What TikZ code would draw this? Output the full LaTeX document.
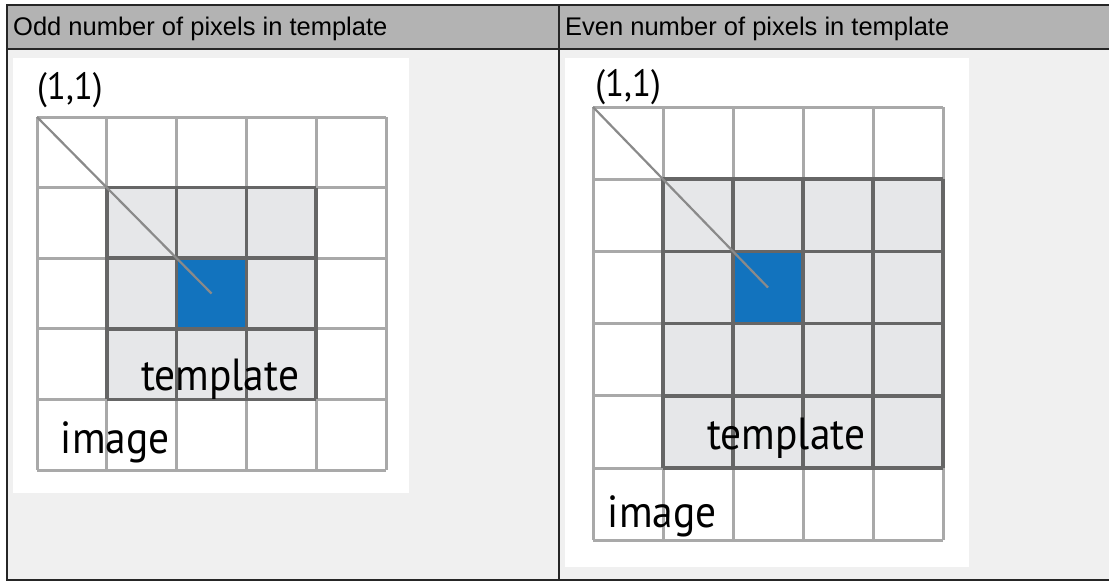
\documentclass[tikz,border=0pt]{standalone}
\usepackage{fontspec}
\setmainfont{Liberation Sans}
\newfontfamily\gridfont{PT Sans}[FakeStretch=0.92]
\definecolor{hdrgray}{HTML}{B3B3B3}
\definecolor{panelgray}{HTML}{F0F0F0}
\definecolor{cellgray}{HTML}{E6E7E9}
\definecolor{lightline}{HTML}{A9A9A9}
\definecolor{darkline}{HTML}{666666}
\definecolor{pixblue}{HTML}{1273BE}
\definecolor{diagline}{HTML}{8A8A8A}
\tikzset{
  hdrtext/.style={anchor=base west, inner sep=0pt, font=\fontsize{25.5}{28}\selectfont},
  celltext/.style={anchor=base west, inner sep=0pt, font=\gridfont\fontsize{45}{48}\selectfont},
  origtext/.style={anchor=base west, inner sep=0pt, font=\gridfont\fontsize{38}{42}\selectfont},
  gridline/.style={draw=lightline, line width=3pt},
  tmplline/.style={draw=darkline, line width=3.5pt},
  diag/.style={draw=diagline, line width=2.2pt}
}
\begin{document}
\begin{tikzpicture}[x=1pt,y=-1pt]
\useasboundingbox (0,0) rectangle (1109,581);

% Tabla
\fill[white] (0,0) rectangle (1109,581);
\fill[panelgray] (7,49) rectangle (1109,580);
\fill[hdrgray] (7,5) rectangle (1109,49);
\draw[line width=1.5pt, black!85] (1109,5) -- (7,5) -- (7,580) -- (1109,580);
\draw[line width=1.5pt, black!85] (7,49) -- (1109,49);
\draw[line width=1.5pt, black!85] (559,5) -- (559,580);

\node[hdrtext] (hodd) at (13,35) {Odd number of pixels in template};
\node[hdrtext] (heven) at (565,35) {Even number of pixels in template};

% Plantilla impar
\fill[white] (13,58) rectangle (409,493);
\begin{scope}[shift={(37,117)}, x=69.8pt, y=-70.6pt]
	\fill[cellgray] (1,1) rectangle (4,4);
	\fill[pixblue] (2,2) rectangle (3,3);
	\foreach \i in {0,...,5} {
		\draw[gridline] (\i,0) -- (\i,5);
		\draw[gridline] (0,\i) -- (5,\i);
	}
	\foreach \i in {1,...,4} {
		\draw[tmplline] (\i,1) -- (\i,4);
		\draw[tmplline] (1,\i) -- (4,\i);
	}
	\coordinate (oddtop) at (0,0);
	\coordinate (oddmid) at (2.5,2.5);
	\draw[diag] (oddtop) -- (oddmid);
	\node[origtext] (oddorig) at (0,-0.25) {(1,1)};
	\node[celltext] (oddtmpl) at (1.49,3.87) {template};
	\node[celltext] (oddimg) at (0.34,4.76) {image};
\end{scope}

% Plantilla par
\fill[white] (565,58) rectangle (969,567);
\begin{scope}[shift={(593,107)}, x=70pt, y=-72.2pt]
	\fill[cellgray] (1,1) rectangle (5,5);
	\fill[pixblue] (2,2) rectangle (3,3);
	\foreach \i in {0,...,5}
		\draw[gridline] (\i,0) -- (\i,6);
	\foreach \i in {0,...,6}
		\draw[gridline] (0,\i) -- (5,\i);
	\foreach \i in {1,...,5} {
		\draw[tmplline] (\i,1) -- (\i,5);
		\draw[tmplline] (1,\i) -- (5,\i);
	}
	\coordinate (eventop) at (0,0);
	\coordinate (evenmid) at (2.5,2.5);
	\draw[diag] (eventop) -- (evenmid);
	\node[origtext] (evenorig) at (0.03,-0.15) {(1,1)};
	\node[celltext] (eventmpl) at (1.63,4.75) {template};
	\node[celltext] (evenimg) at (0.21,5.83) {image};
\end{scope}
\end{tikzpicture}
\end{document}
